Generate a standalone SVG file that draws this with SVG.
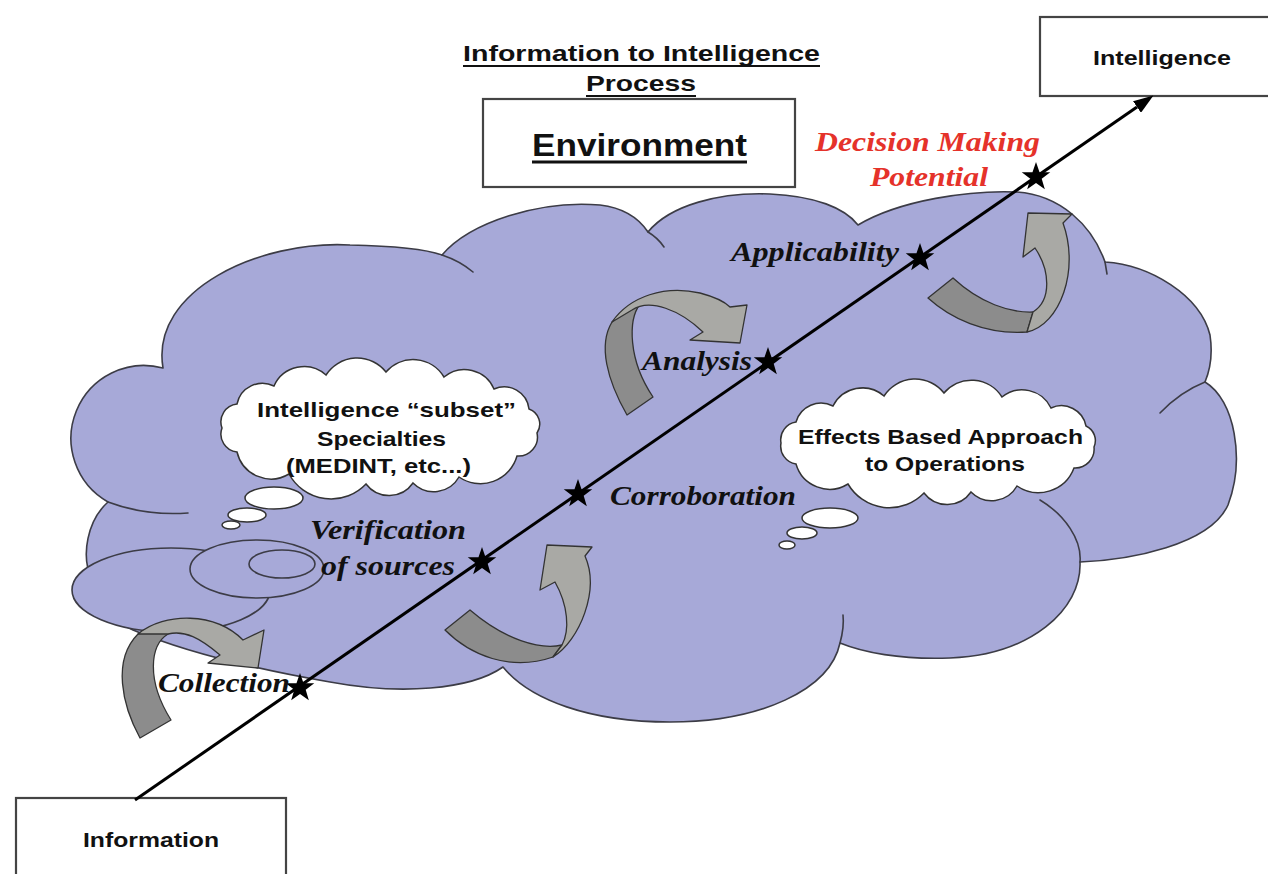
<svg xmlns="http://www.w3.org/2000/svg" width="1268" height="874" viewBox="0 0 1268 874">
<style>
.cloud{fill:#a7a9d8;stroke:#3c3c46;stroke-width:1.6;stroke-linejoin:round}
.stub{fill:none;stroke:#3c3c46;stroke-width:1.6;stroke-linecap:round}
.thought{fill:#ffffff;stroke:#333333;stroke-width:1.5}
.dark{fill:#8c8c8c;stroke:#333333;stroke-width:1.3;stroke-linejoin:round}
.light{fill:#a9a9a5;stroke:#333333;stroke-width:1.3;stroke-linejoin:round}
.box{fill:#ffffff;stroke:#444444;stroke-width:2.2}
.sans{font-family:"Liberation Sans",Arial,sans-serif;font-weight:bold;fill:#111111}
.lbl{font-family:"Liberation Serif","Times New Roman",serif;font-weight:bold;font-style:italic;font-size:27px;fill:#111111}
.red{fill:#e5322a}
.ul{stroke:#111111;stroke-width:2.2}
</style>
<defs>
<path id="star" d="M0,-15 L3.53,-4.85 L14.27,-4.64 L5.71,1.85 L8.82,12.14 L0,6 L-8.82,12.14 L-5.71,1.85 L-14.27,-4.64 L-3.53,-4.85 Z" fill="#000000"/>
<marker id="head" markerUnits="userSpaceOnUse" markerWidth="20" markerHeight="14" viewBox="0 0 20 14" refX="0" refY="7" orient="auto">
<path d="M0,0 L20,7 L0,14 Z" fill="#000000"/>
</marker>
</defs>
<rect width="1268" height="874" fill="#ffffff"/>

<g id="environment-cloud">
<path class="cloud" d="M92,580 C80,555 88,520 108,502 A73,73 0 0 1 163,368 C150,290 260,240 350,245 C400,246 428,250 442,255 C470,222 540,200 600,205 C625,208 640,220 648,232 C670,205 720,192 770,194 C815,196 845,208 858,225 C900,200 970,190 1017,192 C1060,195 1092,225 1105,262 C1150,265 1200,295 1210,335 C1213,355 1210,370 1205,382 C1235,400 1245,460 1228,505 C1210,545 1130,560 1080,562 C1082,610 1030,655 950,658 C900,660 862,652 840,643 C830,690 760,722 670,722 C590,722 530,700 503,667 C470,690 400,695 330,682 C250,668 180,650 133,630 C110,620 95,600 92,580 Z"/>
<path class="stub" d="M108,502 Q145,516 188,513"/>
<path class="stub" d="M442,255 Q460,261 473,272"/>
<path class="stub" d="M648,232 Q658,238 664,247"/>
<path class="stub" d="M1105,262 L1107,274"/>
<path class="stub" d="M1205,382 Q1180,392 1160,413"/>
<path class="stub" d="M1080,562 C1082,540 1065,515 1040,500"/>
<path class="stub" d="M840,643 C843,632 844,624 843,615"/>
<ellipse class="cloud" cx="171" cy="590" rx="99" ry="42"/>
<ellipse class="cloud" cx="257" cy="569" rx="67" ry="29"/>
<ellipse class="cloud" cx="282" cy="564" rx="33" ry="14"/>
</g>

<g id="specialties-thought">
<path class="thought" d="M222,428 A18,18 0 0 1 237,404 A26,26 0 0 1 274,386 A33,33 0 0 1 326,375 A37,37 0 0 1 386,372 A36,36 0 0 1 444,377 A32,32 0 0 1 494,389 A25,25 0 0 1 529,409 A16,16 0 0 1 537,433 A19,19 0 0 1 517,456 A38,38 0 0 1 459,477 A29,29 0 0 1 413,483 A29,29 0 0 1 366,484 A48,48 0 0 1 289,474 A35,35 0 0 1 237,452 A18,18 0 0 1 222,428 Z"/>
<ellipse class="thought" cx="274" cy="498" rx="29" ry="11"/>
<ellipse class="thought" cx="247" cy="515" rx="19" ry="7"/>
<ellipse class="thought" cx="231" cy="525" rx="9" ry="4"/>
<text class="sans" font-size="21" x="257" y="417" textLength="259" lengthAdjust="spacingAndGlyphs">Intelligence “subset”</text>
<text class="sans" font-size="21" x="317" y="446" textLength="129" lengthAdjust="spacingAndGlyphs">Specialties</text>
<text class="sans" font-size="21" x="286" y="473" textLength="185" lengthAdjust="spacingAndGlyphs">(MEDINT, etc...)</text>
</g>

<g id="effects-thought">
<path class="thought" d="M781,443 A18,18 0 0 1 796,422 A26,26 0 0 1 833,406 A33,33 0 0 1 884,396 A37,37 0 0 1 944,393 A36,36 0 0 1 1002,397 A32,32 0 0 1 1051,408 A25,25 0 0 1 1086,426 A16,16 0 0 1 1094,447 A19,19 0 0 1 1074,468 A38,38 0 0 1 1017,486 A29,29 0 0 1 971,492 A29,29 0 0 1 924,493 A48,48 0 0 1 848,484 A35,35 0 0 1 796,464 A18,18 0 0 1 781,443 Z"/>
<ellipse class="thought" cx="830" cy="518" rx="28" ry="10"/>
<ellipse class="thought" cx="802" cy="533" rx="15" ry="6"/>
<ellipse class="thought" cx="787" cy="545" rx="8" ry="4"/>
<text class="sans" font-size="20" x="798" y="444" textLength="285" lengthAdjust="spacingAndGlyphs">Effects Based Approach</text>
<text class="sans" font-size="20" x="865" y="471" textLength="160" lengthAdjust="spacingAndGlyphs">to Operations</text>
</g>

<g id="cycle-arrows">
<g id="arrow-collection">
<path class="dark" d="M140,738 C122,705 112,660 138,634 L158,626 L168,634 C150,645 146,680 171,720 Z"/>
<path class="light" d="M138,634 C165,612 215,612 243,640 L264,630 L258,668 L208,663 L220,655 C200,638 185,630 168,634 Z"/>
</g>
<g id="arrow-verification">
<path class="dark" d="M445,630 C470,655 510,672 553,657 L562,645 C540,650 505,640 470,610 Z"/>
<path class="light" d="M553,657 C580,640 600,590 585,556 L592,547 L547,545 L540,590 L555,582 C568,605 570,630 562,645 Z"/>
</g>
<g id="arrow-analysis">
<path class="dark" d="M627,415 C607,380 598,345 612,322 L633,303 L640,304 C628,320 628,360 653,397 Z"/>
<path class="light" d="M612,322 C630,296 665,285 700,293 C715,297 725,302 730,307 L747,305 L740,343 L690,340 L703,332 C680,310 650,298 632,310 Z"/>
</g>
<g id="arrow-decision">
<path class="dark" d="M928,298 C950,318 985,335 1027,332 L1033,312 C1010,313 980,303 953,278 Z"/>
<path class="light" d="M1027,332 C1060,325 1080,270 1063,223 L1072,214 L1028,213 L1023,257 L1035,248 C1050,270 1052,300 1033,312 Z"/>
</g>
</g>

<g id="title">
<text class="sans" font-size="22" x="463" y="61" textLength="357" lengthAdjust="spacingAndGlyphs">Information to Intelligence</text>
<line class="ul" x1="463" y1="66" x2="820" y2="66"/>
<text class="sans" font-size="22" x="586" y="91" textLength="110" lengthAdjust="spacingAndGlyphs">Process</text>
<line class="ul" x1="586" y1="96" x2="696" y2="96"/>
</g>

<g id="node-environment">
<rect class="box" x="483" y="99" width="312" height="88"/>
<text class="sans" font-size="31" x="532" y="156" textLength="215" lengthAdjust="spacingAndGlyphs">Environment</text>
<line x1="532" y1="162" x2="747" y2="162" stroke="#111111" stroke-width="2.8"/>
</g>

<g id="node-intelligence">
<rect class="box" x="1040" y="17" width="240" height="79"/>
<text class="sans" font-size="20" x="1093" y="65" textLength="138" lengthAdjust="spacingAndGlyphs">Intelligence</text>
</g>

<g id="node-information">
<rect class="box" x="16" y="798" width="270" height="90"/>
<text class="sans" font-size="20" x="83" y="847" textLength="136" lengthAdjust="spacingAndGlyphs">Information</text>
</g>

<g id="connectors">
<line x1="135" y1="800" x2="1137" y2="107" stroke="#000000" stroke-width="3" marker-end="url(#head)"/>
</g>

<g id="milestones">
<use href="#star" transform="translate(300,688)"/>
<use href="#star" transform="translate(482,562)"/>
<use href="#star" transform="translate(578,494)"/>
<use href="#star" transform="translate(768,362)"/>
<use href="#star" transform="translate(920,258)"/>
<use href="#star" transform="translate(1036,177)"/>
<text class="lbl" x="158" y="692" textLength="132" lengthAdjust="spacingAndGlyphs">Collection</text>
<text class="lbl" x="310" y="539" textLength="156" lengthAdjust="spacingAndGlyphs">Verification</text>
<text class="lbl" x="321" y="575" textLength="134" lengthAdjust="spacingAndGlyphs">of sources</text>
<text class="lbl" x="610" y="505" textLength="186" lengthAdjust="spacingAndGlyphs">Corroboration</text>
<text class="lbl" x="642" y="370" textLength="110" lengthAdjust="spacingAndGlyphs">Analysis</text>
<text class="lbl" x="731" y="261" textLength="168" lengthAdjust="spacingAndGlyphs">Applicability</text>
<text class="lbl red" x="815" y="151" textLength="225" lengthAdjust="spacingAndGlyphs">Decision Making</text>
<text class="lbl red" x="870" y="186" textLength="118" lengthAdjust="spacingAndGlyphs">Potential</text>
</g>
</svg>
